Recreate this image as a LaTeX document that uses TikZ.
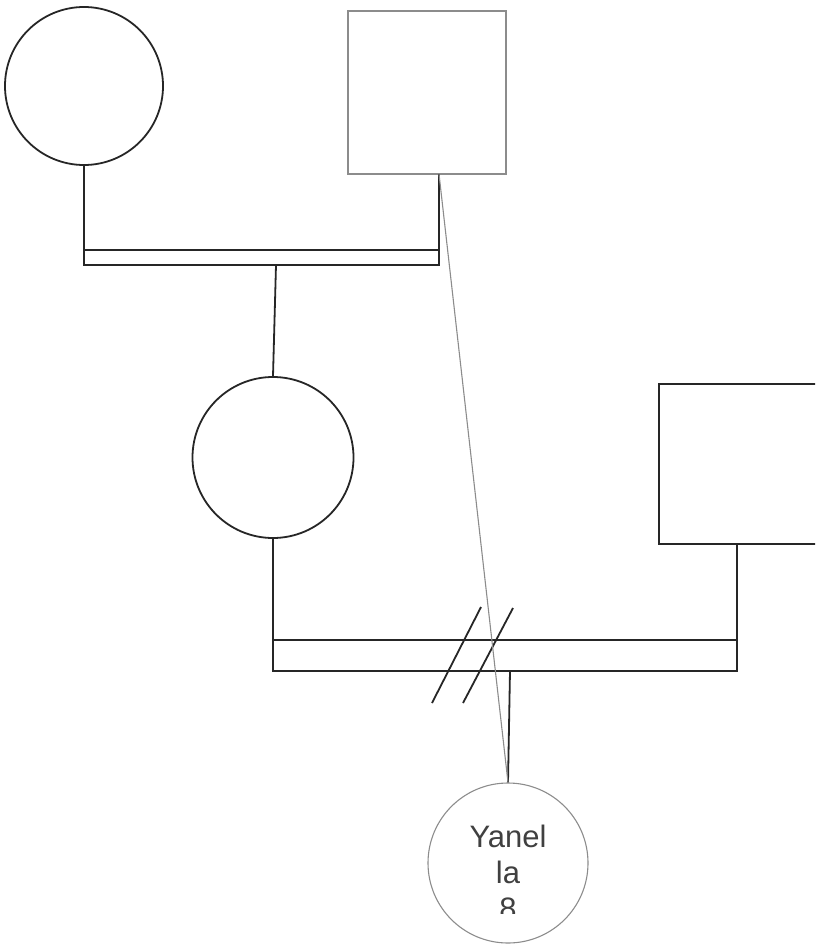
\documentclass[tikz,border=0pt]{standalone}
\usepackage{fontspec}
\setmainfont{Liberation Sans}
\begin{document}
\begin{tikzpicture}[x=1pt,y=-1pt,
  ln/.style={line width=1.8pt, draw=black!85},
  gr/.style={line width=1.1pt, draw=black!45},
  person/.style={circle, draw, inner sep=0pt, minimum size=#1},
  boxp/.style={rectangle, draw, inner sep=0pt}]
\useasboundingbox (0,0) rectangle (815,947);
\clip (0,0) rectangle (815,947);
% persons
\node[person=158pt, ln] (gm) at (84,86) {};
\node[boxp, gr, minimum width=158pt, minimum height=163pt] (gf) at (427,92.5) {};
\node[person=161pt, ln] (m) at (273,457.5) {};
\node[boxp, ln, minimum width=200pt, minimum height=160pt] (f) at (759,464) {};
\node[person=160pt, gr] (y) at (508,863) {};
\begin{scope}
  \clip (420,790) rectangle (600,913);
  \node[align=center, text=black!75, font=\fontsize{31}{36}\selectfont] (yt) at (508,872) {Yanel\\la\\8};
\end{scope}
% first union
\coordinate (gfb) at (439,174);
\coordinate (b1tl) at (84,250);
\coordinate (b1tr) at (439,250);
\coordinate (b1bl) at (84,265);
\coordinate (b1br) at (439,265);
\coordinate (b1c) at (276,265);
\draw[ln] (gm.south) -- (b1bl) -- (b1br) -- (gfb);
\draw[ln] (b1tl) -- (b1tr);
\draw[ln] (b1c) -- (m.north);
% second union
\coordinate (fb) at (737,544);
\coordinate (b2tl) at (273,640);
\coordinate (b2tr) at (737,640);
\coordinate (b2bl) at (273,671);
\coordinate (b2br) at (737,671);
\coordinate (b2c) at (510,671);
\draw[ln] (m.south) -- (b2bl) -- (b2br) -- (fb);
\draw[ln] (b2tl) -- (b2tr);
\draw[ln] (b2c) -- (y.north);
% divorce slashes
\coordinate (s1a) at (432,703); \coordinate (s1b) at (481,607);
\coordinate (s2a) at (463,703); \coordinate (s2b) at (513,608);
\draw[ln] (s1a) -- (s1b);
\draw[ln] (s2a) -- (s2b);
% grey link
\draw[gr] (gfb) -- (y.north);
\end{tikzpicture}
\end{document}
